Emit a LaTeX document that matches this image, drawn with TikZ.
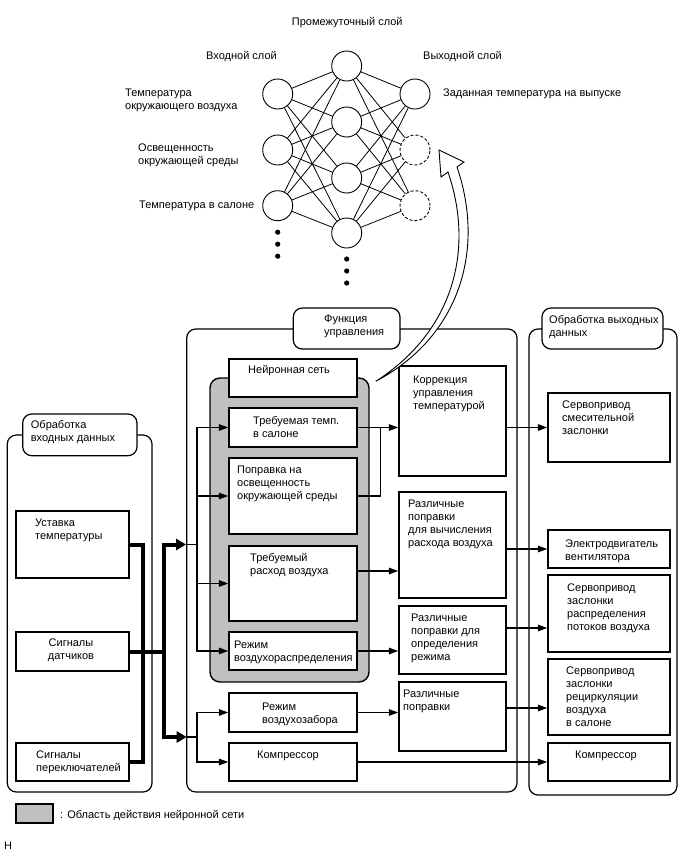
\documentclass[tikz,border=0pt]{standalone}
\usepackage{fontspec}
\setmainfont{Liberation Sans}
\usepackage{tikz}
\usetikzlibrary{arrows.meta}
\usetikzlibrary{calc}
\definecolor{nngray}{RGB}{192,192,192}
\tikzset{>={Triangle[length=9.5pt,width=6.5pt]}}

\begin{document}
\begin{tikzpicture}[
    x=1pt, y=-1pt,
    frame/.style={rectangle, draw, line width=1.2pt, rounded corners=9pt, inner sep=0pt},
    tag/.style={rectangle, draw, fill=white, line width=1.2pt, rounded corners=9pt, inner sep=0pt},
    box/.style={rectangle, draw, fill=white, line width=1.4pt, inner sep=0pt, minimum width=128pt},
    inbox/.style={box, minimum width=113pt},
    midbox/.style={box, minimum width=107pt},
    outbox/.style={box, minimum width=122pt},
    zone/.style={rectangle, draw, fill=nngray, line width=1.4pt, rounded corners=10pt, inner sep=0pt},
    neuron/.style={circle, draw, fill=white, line width=0.9pt, minimum size=30pt, inner sep=0pt},
    ghost/.style={neuron, dash pattern=on 3pt off 2pt},
    netline/.style={line width=0.8pt},
    txt/.style={anchor=north west, inner sep=0pt, align=left, yshift=-1.5pt, font=\fontsize{11}{13}\selectfont},
    link/.style={line width=1.5pt, ->},
    wire/.style={line width=1.5pt},
    bus/.style={line width=4pt},
    busarrow/.style={line width=4pt, -{Triangle[length=10pt,width=11pt]}}
  ]
  \useasboundingbox (0,0) rectangle (688,852);

  % neural network
  \node[neuron] (h1) at (346.7,66) {};
  \node[neuron] (h2) at (346.7,122) {};
  \node[neuron] (h3) at (346.7,178) {};
  \node[neuron] (h4) at (346.7,233) {};
  \node[neuron] (i1) at (277.7,94) {};
  \node[neuron] (i2) at (277.7,150) {};
  \node[neuron] (i3) at (277.7,205.7) {};
  \node[neuron] (o1) at (415,94) {};
  \node[ghost] (o2) at (415,150) {};
  \node[ghost] (o3) at (415,205.7) {};
  \path[netline] (i1) edge (h1) edge (h2) edge (h3) edge (h4);
  \path[netline] (i2) edge (h1) edge (h2) edge (h3) edge (h4);
  \path[netline] (i3) edge (h1) edge (h2) edge (h3) edge (h4);
  \path[netline] (o1) edge (h1) edge (h2) edge (h3) edge (h4);
  \path[netline] (o2) edge (h1) edge (h2) edge (h3) edge (h4);
  \path[netline] (o3) edge (h1) edge (h2) edge (h3) edge (h4);
  \fill (i3) ++(0,26.5) circle[radius=2.6pt] ++(0,12) circle[radius=2.6pt] ++(0,12) circle[radius=2.6pt];
  \fill (h4) ++(0,26) circle[radius=2.6pt] ++(0,12) circle[radius=2.6pt] ++(0,12) circle[radius=2.6pt];
  \node[txt] (midlabel) at (291.7,15.7) {Промежуточный слой};
  \node[txt] (inlabel) at (206,50) {Входной слой};
  \node[txt] (outlabel) at (423,50) {Выходной слой};
  \node[txt] (i1label) at (125,87) {Температура\\окружающего воздуха};
  \node[txt] (i2label) at (138,142) {Освещенность\\окружающей среды};
  \node[txt] (i3label) at (139,199) {Температура в салоне};
  \node[txt] (o1label) at (443,87) {Заданная температура на выпуске};

  % containers
  \node[frame, minimum width=144.7pt, minimum height=357pt] (inproc) at (79.65,613.5) {};
  \node[frame, minimum width=330.3pt, minimum height=463pt] (ctrl) at (351.85,560.5) {};
  \node[frame, minimum width=148pt, minimum height=466pt] (outproc) at (603,562) {};
  \node[tag, minimum width=114.3pt, minimum height=41.7pt] (intag) at (79.85,434.85) {};
  \node[tag, minimum width=106.7pt, minimum height=41pt] (ctrltag) at (346.65,328.5) {};
  \node[tag, minimum width=121pt, minimum height=41pt] (outtag) at (602.5,328.5) {};
  \node[txt] (intagtext) at (30.7,419) {Обработка\\входных данных};
  \node[txt] (ctrltagtext) at (324,313.5) {Функция\\управления};
  \node[txt] (outtagtext) at (549,314) {Обработка выходных\\данных};
  \node[zone, minimum width=159pt, minimum height=304pt] (nnzone) at (289.5,530) {};

  % input processing
  \node[inbox, minimum height=67pt] (ustavka) at (72.5,544.5) {};
  \node[inbox, minimum height=39pt] (datch) at (72.5,651.5) {};
  \node[inbox, minimum height=38pt] (perekl) at (72.5,762) {};
  \node[txt] (ustavkatext) at (35,517) {Уставка\\температуры};
  \node[txt, anchor=north, align=center] (datchtext) at (71,637) {Сигналы\\датчиков};
  \node[txt] (perekltext) at (36,749) {Сигналы\\переключателей};

  % control function
  \node[box, minimum height=38pt] (nnhead) at (293,378) {};
  \node[box, minimum height=39pt] (trtemp) at (293,427.5) {};
  \node[box, minimum height=76pt] (popr) at (293,496) {};
  \node[box, minimum height=75pt] (rashod) at (293,583.5) {};
  \node[box, minimum height=38pt] (rezhraspr) at (293,651) {};
  \node[box, minimum height=39pt] (zabor) at (293,712.5) {};
  \node[box, minimum height=38pt] (kompr) at (293,762) {};
  \node[txt] (nnheadtext) at (248,364) {Нейронная сеть};
  \node[txt] (trtemptext) at (253,415) {Требуемая темп.\\в салоне};
  \node[txt] (poprtext) at (237,464) {Поправка на\\освещенность\\окружающей среды};
  \node[txt] (rashodtext) at (250,552) {Требуемый\\расход воздуха};
  \node[txt] (rezhrasprtext) at (234,639) {Режим\\воздухораспределения};
  \node[txt] (zabortext) at (262,701) {Режим\\воздухозабора};
  \node[txt] (komprtext) at (257,749) {Компрессор};
  \node[midbox, minimum height=110pt] (korr) at (452.5,421) {};
  \node[midbox, minimum height=106pt] (razl1) at (452.5,545) {};
  \node[midbox, minimum height=68pt] (razl2) at (452.5,640) {};
  \node[midbox, minimum height=69pt] (razl3) at (452.5,716.5) {};
  \node[txt] (korrtext) at (413,374) {Коррекция\\управления\\температурой};
  \node[txt] (razl1text) at (408,498) {Различные\\поправки\\для вычисления\\расхода воздуха};
  \node[txt] (razl2text) at (411,612) {Различные\\поправки для\\определения\\режима};
  \node[txt] (razl3text) at (403,688) {Различные\\поправки};

  % output processing
  \node[outbox, minimum height=69pt] (smes) at (609,427.5) {};
  \node[outbox, minimum height=38pt] (elektro) at (609,549) {};
  \node[outbox, minimum height=77pt] (raspr) at (609,613.5) {};
  \node[outbox, minimum height=76pt] (retsirk) at (609,697) {};
  \node[outbox, minimum height=38pt] (komprout) at (609,762) {};
  \node[txt] (smestext) at (562,399) {Сервопривод\\смесительной\\заслонки};
  \node[txt] (elektrotext) at (565,538) {Электродвигатель\\вентилятора};
  \node[txt] (rasprtext) at (567,582) {Сервопривод\\заслонки\\распределения\\потоков воздуха};
  \node[txt] (retsirktext) at (566,665) {Сервопривод\\заслонки\\рециркуляции\\воздуха\\в салоне};
  \node[txt] (komprouttext) at (575,749) {Компрессор};

  % bus lines
  \coordinate (busjoin) at ($(datch.east)+(34,0)$);
  \coordinate (in1) at (ctrl.west |- ustavka.east);
  \coordinate (in2) at (186.7,737);
  \coordinate (fan1) at (197,544.5);
  \coordinate (fan2) at (197,737);
  \draw[bus] (ustavka.east) -- ++(13,0) |- (perekl.east);
  \draw[bus] (datch.east) -- (busjoin);
  \draw[busarrow] (busjoin) |- (in1);
  \draw[busarrow] (busjoin) |- (in2);
  \draw[wire] (in1) -- (fan1);
  \draw[wire] (in2) -- (fan2);
  \draw[link] (fan1) |- (trtemp.west);
  \draw[link] (fan1) |- (popr.west);
  \draw[link] (fan1) |- (rashod.west);
  \draw[link] (fan1) |- (rezhraspr.west);
  \draw[link] (fan2) |- (zabor.west);
  \draw[link] (fan2) |- (kompr.west);

  % signal flow
  \draw[link] (trtemp.east) -- (trtemp.east -| korr.west);
  \draw[wire] (popr.east) -- ++(23,0) |- (trtemp.east);
  \draw[link] ([yshift=12.5pt]rashod.east) -- ([yshift=12.5pt]rashod.east -| razl1.west);
  \draw[link] (rezhraspr.east) -- (rezhraspr.east -| razl2.west);
  \draw[link] (zabor.east) -- (zabor.east -| razl3.west);
  \draw[link] (kompr.east) -- (komprout.west);
  \draw[link] (smes.west -| korr.east) -- (smes.west);
  \draw[link] (elektro.west -| razl1.east) -- (elektro.west);
  \draw[link] ([yshift=12pt]razl2.east) -- ([yshift=12pt]razl2.east -| raspr.west);
  \draw[link] ([yshift=8.5pt]razl3.east) -- ([yshift=8.5pt]razl3.east -| retsirk.west);

  % feedback arrow to the output layer
  \coordinate (fbtail) at ($(nnzone.north east)+(6,4)$);
  \draw[line width=0.9pt, fill=white, line join=miter] (fbtail) .. controls (458,338) and (486,252) .. (457,167)
    -- (464,162) -- (439,150) -- (441,177) -- (448,172) .. controls (476,254) and (450,334) .. (fbtail) -- cycle;

  % legend
  \node[rectangle, draw, fill=nngray, line width=1.2pt, minimum width=37pt, minimum height=19pt] (legendbox) at (34.5,813.5) {};
  \node[txt] (legendtext) at (60,809) {: Область действия нейронной сети};
  \node[txt] (mark) at (4,840) {H};
\end{tikzpicture}
\end{document}
